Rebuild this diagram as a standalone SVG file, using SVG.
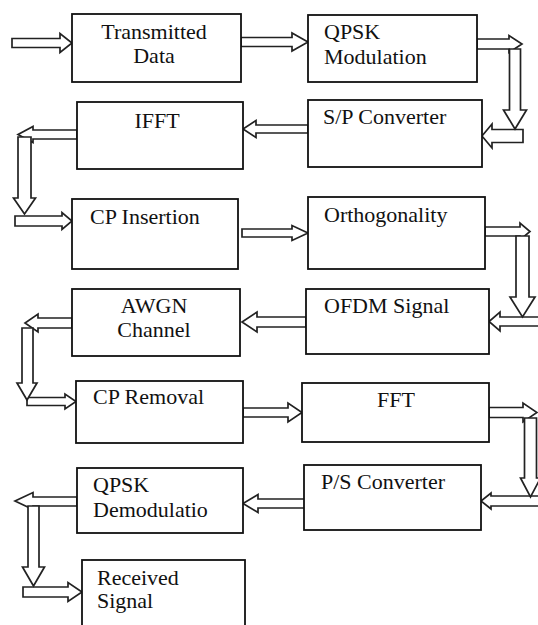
<svg xmlns="http://www.w3.org/2000/svg" width="538" height="625" viewBox="0 0 538 625">
<style>
.box{fill:#fff;stroke:#111;stroke-width:1.8}
.arr{fill:#fff;stroke:#222;stroke-width:1.7;stroke-linejoin:miter}
.t{font-family:Tinos,'Liberation Serif','Noto Serif','DejaVu Serif',Times,'Times New Roman',serif;font-size:22px;fill:#111}
.c{text-anchor:middle}
</style>
<rect width="538" height="625" fill="#fff"/>
<g id="connectors">
<polygon class="arr" points="12,38.5 60,38.5 60,33.5 72,43 60,52.5 60,47.5 12,47.5"/>
<polygon class="arr" points="241,37.5 292,37.5 292,33 308,42 292,51 292,46.5 241,46.5"/>
<polygon class="arr" points="477,39 509,39 509,35.5 522,44 509,52.5 509,49 477,49"/>
<polygon class="arr" points="523,129.5 492,129.5 492,124 482,136 492,148 492,142.5 523,142.5"/>
<polygon class="arr" points="509.5,49 520.5,49 520.5,110 526.5,110 515,129 503.5,110 509.5,110"/>
<polygon class="arr" points="308,125 256,125 256,120.5 243,129 256,137.5 256,133 308,133"/>
<polygon class="arr" points="77,130 33,130 33,126.5 18,134.5 33,142.5 33,139 77,139"/>
<polygon class="arr" points="15,216 62,216 62,212.5 72,221 62,229.5 62,226 15,226"/>
<polygon class="arr" points="18,137 31,137 31,198 35.5,198 24.5,214 13.5,198 18,198"/>
<polygon class="arr" points="242,229 292,229 292,225.5 308,233 292,240.5 292,237 242,237"/>
<polygon class="arr" points="485,227 520,227 520,223 530,231.5 520,240 520,236 485,236"/>
<polygon class="arr" points="540,317 500,317 500,312 489,321.5 500,331 500,326 540,326"/>
<polygon class="arr" points="516,236 529,236 529,297 535,297 522.5,317 510,297 516,297"/>
<polygon class="arr" points="306,317 257,317 257,312 242,322 257,332 257,327 306,327"/>
<polygon class="arr" points="72,318 38,318 38,314 25,323 38,332 38,328 72,328"/>
<polygon class="arr" points="27,397.5 65,397.5 65,394 76,401.5 65,409 65,405.5 27,405.5"/>
<polygon class="arr" points="22,328 33,328 33,383 37,383 27,400 17,383 22,383"/>
<polygon class="arr" points="243,408 288,408 288,403 302,412.5 288,422 288,417 243,417"/>
<polygon class="arr" points="489,407.5 523,407.5 523,403 537,412.5 523,422 523,417.5 489,417.5"/>
<polygon class="arr" points="540,496 491,496 491,493 481,501 491,509 491,506 540,506"/>
<polygon class="arr" points="524.5,418 536.5,418 536.5,478 540.5,478 530.5,497 520.5,478 524.5,478"/>
<polygon class="arr" points="305,499 258,499 258,494.5 243,503.5 258,512.5 258,508 305,508"/>
<polygon class="arr" points="77,497 33,497 33,492.5 15,501 33,509.5 33,506 77,506"/>
<polygon class="arr" points="23,587 68,587 68,582.5 82,592 68,601.5 68,597 23,597"/>
<polygon class="arr" points="28,506 39,506 39,567 44.5,567 33.5,586 22.5,567 28,567"/>
</g>
<g id="transmitted-data"><rect class="box" x="72" y="14" width="169" height="68"/><text class="t c" x="154" y="39">Transmitted</text><text class="t c" x="154" y="63">Data</text></g>
<g id="qpsk-modulation"><rect class="box" x="308" y="15" width="169" height="67"/><text class="t" x="324" y="39">QPSK</text><text class="t" x="324" y="64">Modulation</text></g>
<g id="ifft"><rect class="box" x="77" y="102" width="166" height="67"/><text class="t c" x="157" y="128">IFFT</text></g>
<g id="sp-converter"><rect class="box" x="308" y="100" width="174" height="67"/><text class="t" x="323" y="124">S/P Converter</text></g>
<g id="cp-insertion"><rect class="box" x="72" y="199" width="166" height="70"/><text class="t" x="90" y="224">CP Insertion</text></g>
<g id="orthogonality"><rect class="box" x="308" y="197" width="177" height="72"/><text class="t" x="324" y="222">Orthogonality</text></g>
<g id="awgn-channel"><rect class="box" x="72" y="289" width="168" height="67"/><text class="t c" x="154" y="313">AWGN</text><text class="t c" x="154" y="337">Channel</text></g>
<g id="ofdm-signal"><rect class="box" x="306" y="289" width="183" height="65"/><text class="t" x="324" y="313">OFDM Signal</text></g>
<g id="cp-removal"><rect class="box" x="76" y="381" width="167" height="62"/><text class="t" x="93" y="404">CP Removal</text></g>
<g id="fft"><rect class="box" x="302" y="383" width="187" height="59"/><text class="t c" x="396" y="407">FFT</text></g>
<g id="qpsk-demodulation"><rect class="box" x="77" y="468" width="166" height="65"/><text class="t" x="93" y="492">QPSK</text><text class="t" x="93" y="517">Demodulatio</text></g>
<g id="ps-converter"><rect class="box" x="304" y="465" width="177" height="65"/><text class="t" x="321" y="489">P/S Converter</text></g>
<g id="received-signal"><rect class="box" x="82" y="560" width="163" height="72"/><text class="t" x="97" y="585">Received</text><text class="t" x="97" y="608">Signal</text></g>
</svg>
